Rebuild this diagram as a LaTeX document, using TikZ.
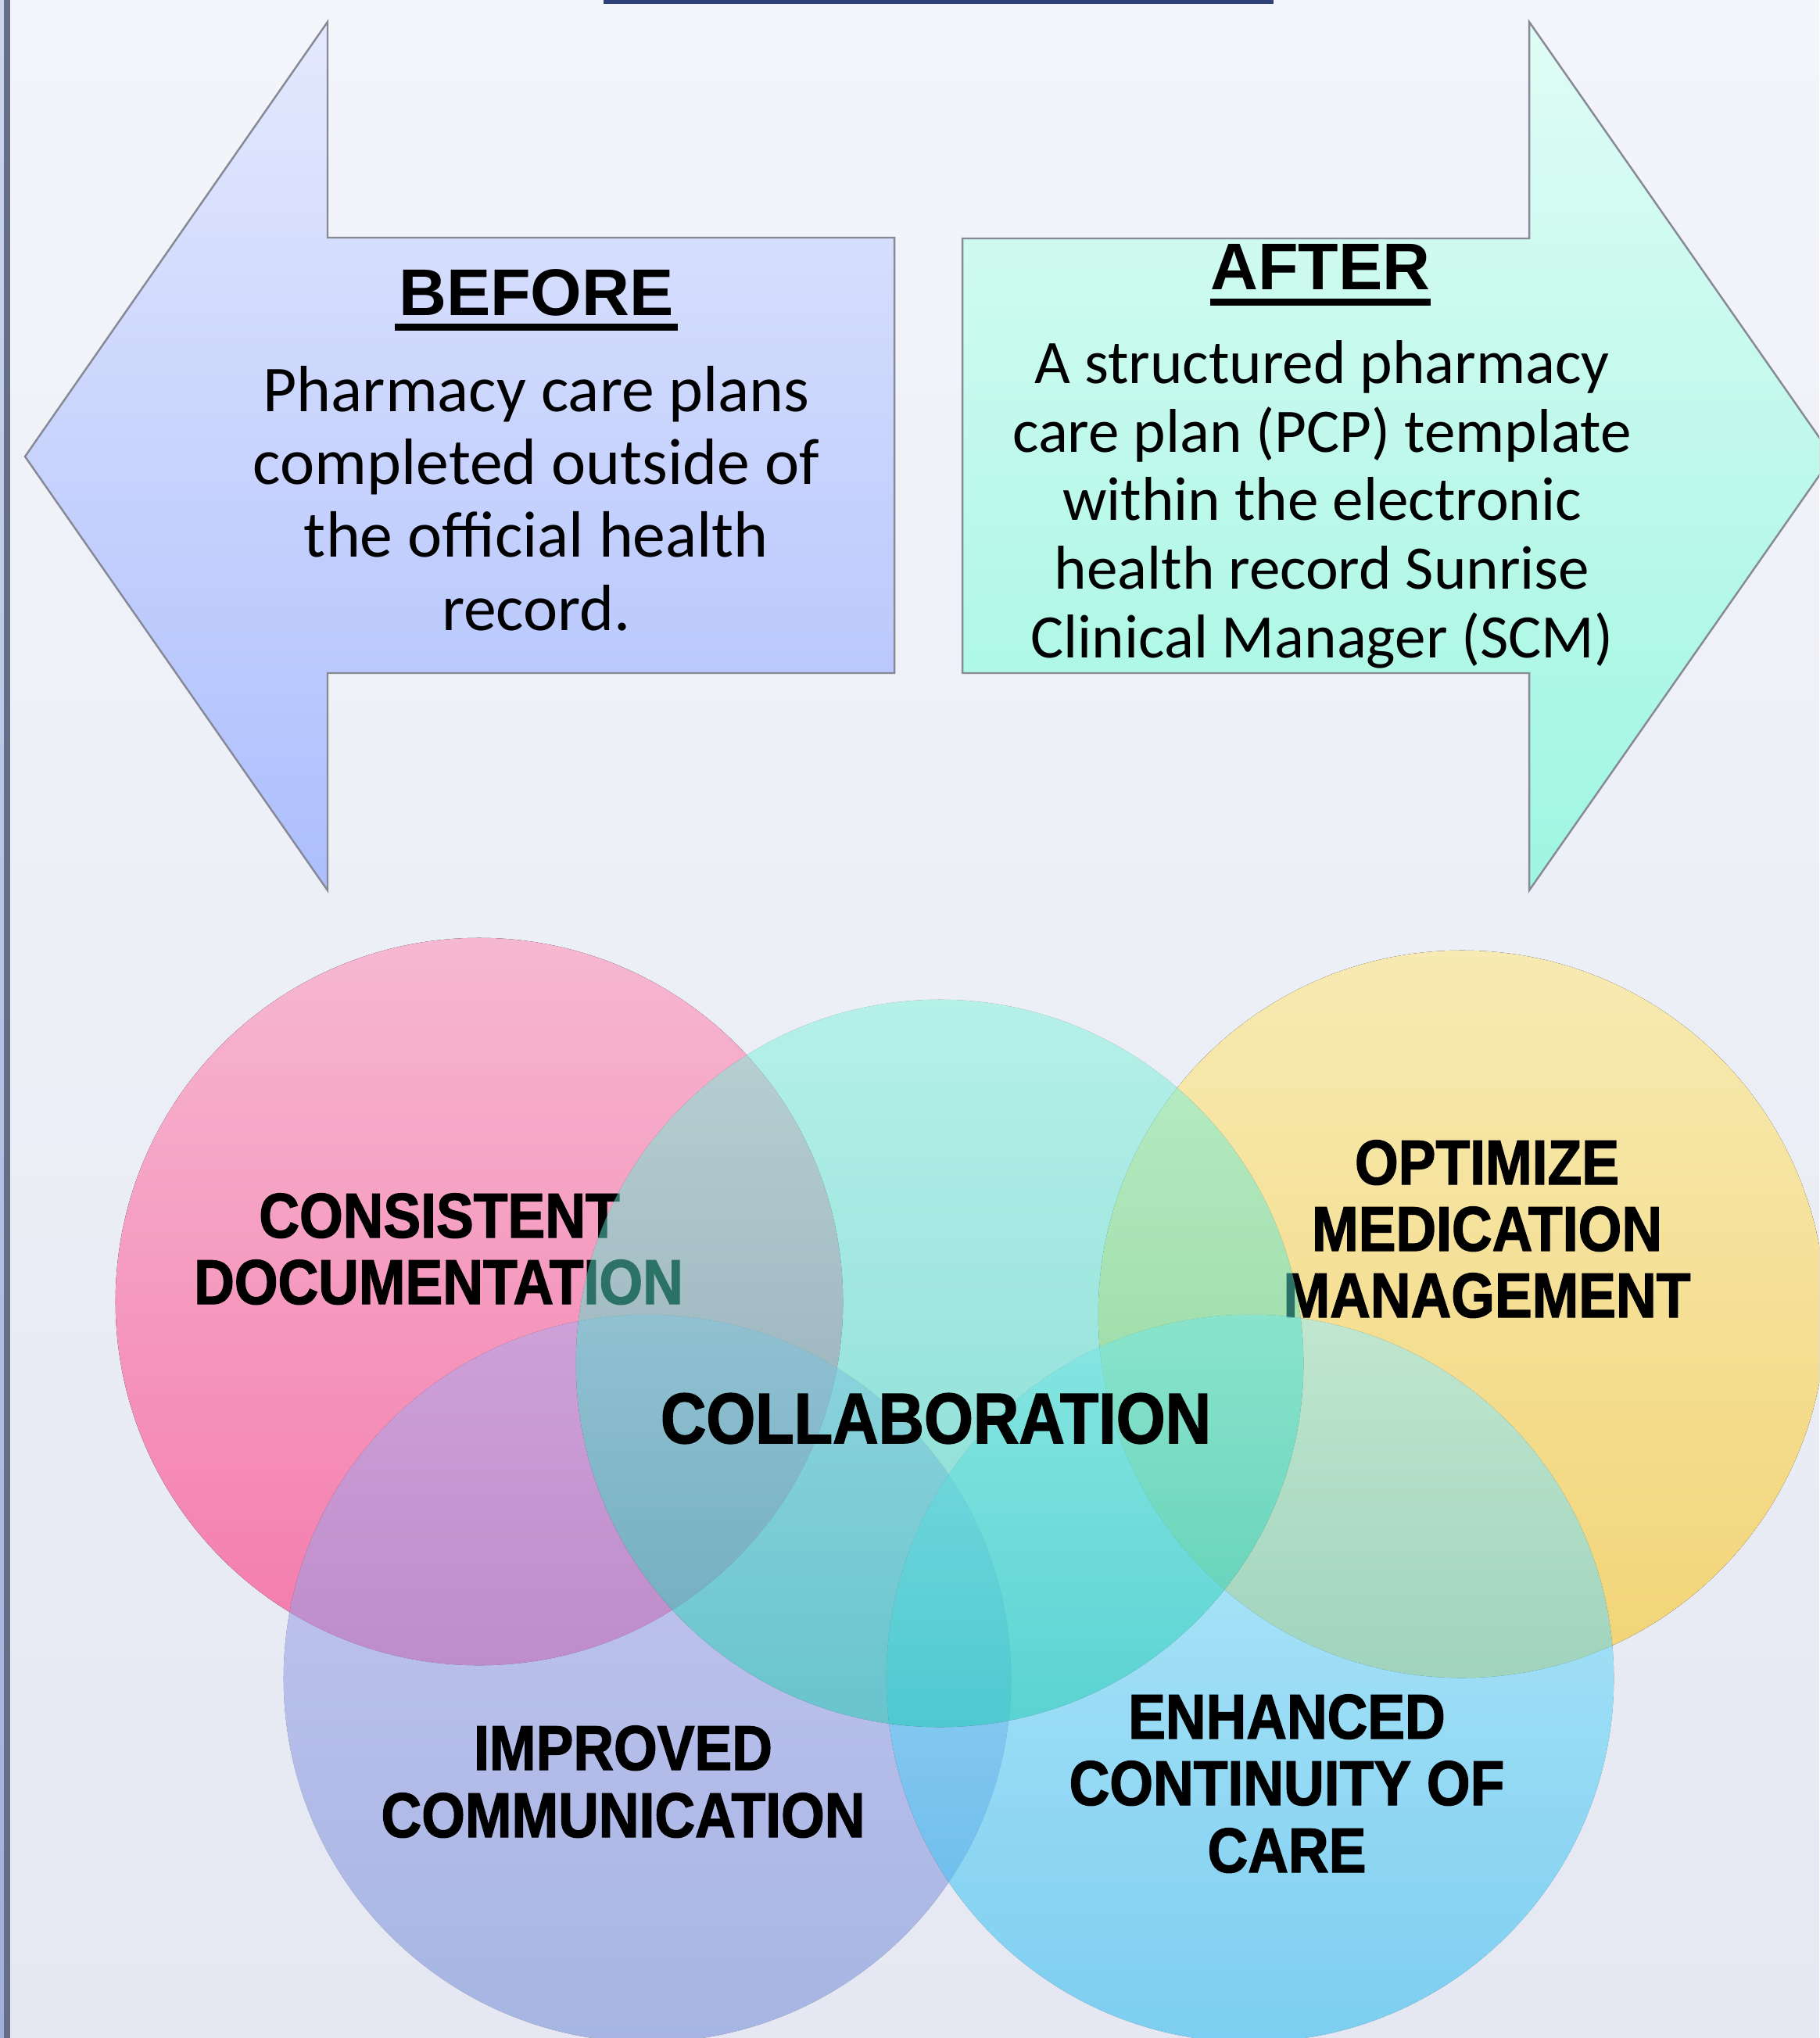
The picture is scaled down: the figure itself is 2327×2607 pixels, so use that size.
\documentclass[tikz,border=0pt]{standalone}
\usepackage{fontspec}
\setmainfont{Carlito}
\newfontfamily\headfont{Liberation Sans}
\newfontfamily\labelfont[FakeStretch=0.885,FakeBold=1.6]{Liberation Sans}
\definecolor{bgT}{RGB}{243,245,250}
\definecolor{bgB}{RGB}{229,232,242}
\definecolor{stripT}{RGB}{205,213,238}
\definecolor{stripB}{RGB}{160,176,220}
\definecolor{stripline}{RGB}{100,110,135}
\definecolor{barc}{RGB}{47,65,120}
\definecolor{arrowline}{RGB}{135,138,150}
\definecolor{lArT}{RGB}{228,233,253}
\definecolor{lArB}{RGB}{172,190,253}
\definecolor{rArT}{RGB}{224,252,245}
\definecolor{rArB}{RGB}{158,246,225}
\definecolor{pinkT}{RGB}{246,184,208}
\definecolor{pinkB}{RGB}{244,122,172}
\definecolor{yelT}{RGB}{247,234,178}
\definecolor{yelB}{RGB}{242,212,118}
\definecolor{cyanT}{RGB}{127,243,222}
\definecolor{cyanB}{RGB}{30,203,178}
\definecolor{purT}{RGB}{175,170,240}
\definecolor{purB}{RGB}{115,140,215}
\definecolor{bluT}{RGB}{150,238,255}
\definecolor{bluB}{RGB}{40,185,240}
\begin{document}
\begin{tikzpicture}[x=0.01cm,y=-0.01cm,
  arrowshape/.style={draw=arrowline, line width=0.7pt, line join=miter},
  head/.style={font=\headfont\bfseries\fontsize{24}{28}\selectfont, inner sep=0pt, anchor=base},
  bodyA/.style={font=\fontsize{23.8}{26}\selectfont, inner sep=0pt, anchor=base},
  bodyB/.style={font=\fontsize{22.5}{25}\selectfont, inner sep=0pt, anchor=base},
  lab/.style={font=\labelfont\bfseries\fontsize{23}{24}\selectfont, inner sep=0pt, anchor=base},
  collab/.style={font=\labelfont\bfseries\fontsize{26}{28}\selectfont, inner sep=0pt, anchor=base},
  uline/.style={line width=0.09cm, black}]
% background
\useasboundingbox (0,0) rectangle (2327,2607);
\fill[top color=bgT, bottom color=bgB] (0,0) rectangle (2327,2607);
\fill[top color=stripT, bottom color=stripB] (0,0) rectangle (8,2607);
\draw[stripline, line width=2pt] (9,0) -- (9,2607);
\fill[barc] (772,0) rectangle (1629,5);
% arrows
\begin{scope}
\clip (0,0) rectangle (2327,2607);
\filldraw[arrowshape, top color=lArT, bottom color=lArB]
  (32,584) -- (419,28) -- (419,304) -- (1144,304) -- (1144,861) -- (419,861) -- (419,1139) -- cycle;
\filldraw[arrowshape, top color=rArT, bottom color=rArB]
  (2344,584) -- (1956,28) -- (1956,305) -- (1231,305) -- (1231,861) -- (1956,861) -- (1956,1139) -- cycle;
\end{scope}
% BEFORE
\node[head] (bh) at (686,404) {BEFORE};
\draw[uline] ([xshift=-0.04cm,yshift=-0.145cm]bh.base west) -- ([xshift=0.04cm,yshift=-0.145cm]bh.base east);
\foreach \t [count=\i from 0] in {Pharmacy care plans, completed outside of, the official health, record.}
  \node[bodyA] (bl\i) at (686,{527+93*\i}) {\t};
% AFTER
\node[head] (ah) at (1689,371) {AFTER};
\draw[uline] ([yshift=-0.155cm]ah.base west) -- ([yshift=-0.155cm]ah.base east);
\foreach \t [count=\i from 0] in {A structured pharmacy, care plan (PCP) template, within the electronic, health record Sunrise, Clinical Manager (SCM)}
  \node[bodyB] (al\i) at (1691,{491+87.5*\i}) {\t};
% circles
\begin{scope}
\clip (0,0) rectangle (2327,2607);
\fill[top color=pinkT, bottom color=pinkB] (613,1665) circle[radius=4.65cm];
\fill[top color=yelT, bottom color=yelB] (1870,1681) circle[radius=4.65cm];
\node[lab] (cs1) at (562,1583) {CONSISTENT};
\node[lab] (cs2) at (561,1668) {DOCUMENTATION};
\node[lab] (op1) at (1902,1515) {OPTIMIZE};
\node[lab] (op2) at (1902,1600) {MEDICATION};
\node[lab] (op3) at (1902,1685) {MANAGEMENT};
\begin{scope}[transparency group, opacity=0.55]
\fill[top color=purT, bottom color=purB] (828,2147) circle[radius=4.65cm];
\end{scope}
\node[lab] (im1) at (797,2264) {IMPROVED};
\node[lab] (im2) at (797,2350) {COMMUNICATION};
\begin{scope}[transparency group, opacity=0.55]
\fill[top color=bluT, bottom color=bluB] (1599,2147) circle[radius=4.65cm];
\end{scope}
\node[lab] (en1) at (1646,2224) {ENHANCED};
\node[lab] (en2) at (1646,2309) {CONTINUITY OF};
\node[lab] (en3) at (1646,2395) {CARE};
\begin{scope}[transparency group, opacity=0.5]
\fill[top color=cyanT, bottom color=cyanB] (1202,1744) circle[radius=4.65cm];
\end{scope}
\node[collab] (col) at (1197,1846) {COLLABORATION};
\end{scope}
\end{tikzpicture}
\end{document}
